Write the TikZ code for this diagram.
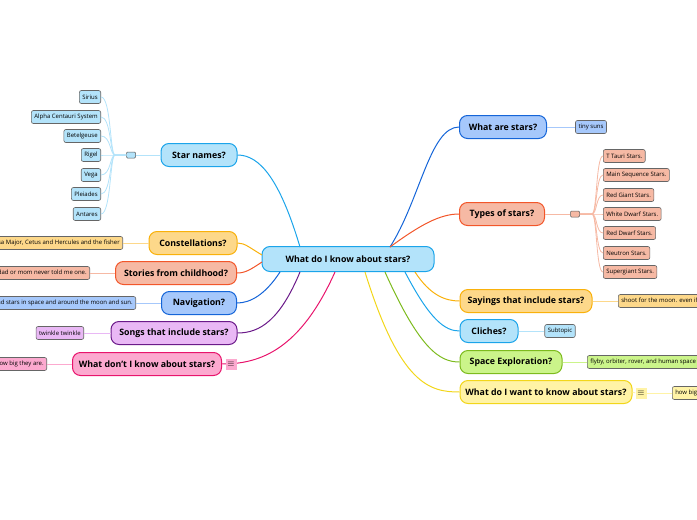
\documentclass[tikz,border=0pt]{standalone}
\usepackage{fontspec}
\setmainfont{Open Sans}
\begin{document}
\begin{tikzpicture}[x=1pt,y=-1pt,
 main/.style={draw,line width=1pt,rounded corners=8pt,minimum height=23pt,inner xsep=4pt,font=\fontsize{8.8}{10}\selectfont\bfseries},
 leaf/.style={draw=gray!80!black,line width=0.6pt,rounded corners=2pt,minimum height=13pt,inner xsep=3pt,font=\fontsize{6}{7}\selectfont},
 hub/.style={draw=gray!70!black,line width=0.5pt,rounded corners=1pt,minimum width=9pt,minimum height=6pt,inner sep=0pt},
 icon/.style={font=\fontsize{9}{9}\selectfont,inner sep=0pt,minimum size=11pt},
 con/.style={line width=1pt},
 lc/.style={line width=0.8pt}]
\definecolor{bF}{HTML}{A6C8FB}\definecolor{bD}{HTML}{1565D8}
\definecolor{oF}{HTML}{F6B9A4}\definecolor{oD}{HTML}{F2562A}
\definecolor{yF}{HTML}{FDD88A}\definecolor{yD}{HTML}{F9B10B}
\definecolor{cF}{HTML}{B3E3FA}\definecolor{cD}{HTML}{1BA4EA}
\definecolor{gF}{HTML}{CBF48A}\definecolor{gD}{HTML}{7DBB1E}
\definecolor{lF}{HTML}{FFF3A6}\definecolor{lD}{HTML}{F2D61A}
\definecolor{pF}{HTML}{E9B8F5}\definecolor{pD}{HTML}{6B1A8A}
\definecolor{kF}{HTML}{FCA9CF}\definecolor{kD}{HTML}{E8146C}
\useasboundingbox (0,0) rectangle (697,520);
\clip (0,0) rectangle (697,520);
% center
\node[main,draw=cD,fill=cF,minimum width=172pt,minimum height=25pt] (c) at (348,259) {What do I know about stars?};
% right mains
\node[main,draw=bD,fill=bF,minimum width=87pt] (m1) at (503,127) {What are stars?};
\node[main,draw=oD,fill=oF,minimum width=85pt] (m2) at (502,214) {Types of stars?};
\node[main,draw=yD,fill=yF,minimum width=132pt] (m3) at (526,301) {Sayings that include stars?};
\node[main,draw=cD,fill=cF,minimum width=58pt] (m4) at (489,331) {Cliches?};
\node[main,draw=gD,fill=gF,minimum width=102pt] (m5) at (511,362) {Space Exploration?};
\node[main,draw=lD,fill=lF,minimum width=172pt] (m6) at (546,392) {What do I want to know about stars?};
% left mains
\node[main,draw=cD,fill=cF,minimum width=76pt] (n1) at (199,155) {Star names?};
\node[main,draw=yD,fill=yF,minimum width=88pt] (n2) at (193,243) {Constellations?};
\node[main,draw=oD,fill=oF,minimum width=121pt] (n3) at (176,273) {Stories from childhood?};
\node[main,draw=bD,fill=bF,minimum width=75pt] (n4) at (199,303) {Navigation?};
\node[main,draw=pD,fill=pF,minimum width=126pt] (n5) at (174,333) {Songs that include stars?};
\node[main,draw=kD,fill=kF,minimum width=149pt] (n6) at (147,364) {What don't I know about stars?};
% center connectors
\draw[con,bD] (390,247) .. controls (420,200) and (430,127) .. (m1.west);
\draw[con,oD] (390,247) .. controls (420,225) and (440,214) .. (m2.west);
\draw[con,yD] (415,272) .. controls (430,295) and (445,301) .. (m3.west);
\draw[con,cD] (405,272) .. controls (430,320) and (445,331) .. (m4.west);
\draw[con,gD] (385,272) .. controls (420,350) and (440,362) .. (m5.west);
\draw[con,lD] (365,272) .. controls (400,385) and (430,392) .. (m6.west);
\draw[con,cD] (300,247) .. controls (280,180) and (260,155) .. (n1.east);
\draw[con,yD] (262,255) .. controls (250,248) and (245,243) .. (n2.east);
\draw[con,oD] (262,262) .. controls (250,270) and (245,273) .. (n3.east);
\draw[con,bD] (280,272) .. controls (265,295) and (250,303) .. (n4.east);
\draw[con,pD] (300,272) .. controls (280,320) and (260,333) .. (n5.east);
\draw[con,kD] (335,272) .. controls (300,350) and (260,364) .. (n6.east);
% right leaves
\node[leaf,fill=bF] (a1) at (591,127) {tiny suns};
\draw[lc,bF] (m1.east) -- (a1.west);
\node[hub,fill=oF] (h2) at (575,214) {};
\draw[lc,oF] (m2.east) -- (h2.west);
\foreach \t/\y [count=\i] in {T Tauri Stars./156,Main Sequence Stars./175,Red Giant Stars./195,White Dwarf Stars./214,Red Dwarf Stars./233,Neutron Stars./253,Supergiant Stars./272}{
 \node[leaf,fill=oF,anchor=west] (t\i) at (603,\y) {\t};
 \draw[lc,oF] (h2.east) -- (592,214) .. controls (597,214) and (596,\y) .. (t\i.west);
}
\node[leaf,fill=yF,anchor=west] (a3) at (618,301) {shoot for the moon. even if you miss you will land among the stars};
\draw[lc,yF] (m3.east) -- (a3.west);
\node[leaf,fill=cF] (a4) at (560,331) {Subtopic};
\draw[lc,cF] (m4.east) -- (a4.west);
\node[leaf,fill=gF,anchor=west] (a5) at (587,362) {flyby, orbiter, rover, and human space exploration};
\draw[lc,gF] (m5.east) -- (a5.west);
\node[icon,fill=lF] (i6) at (641,393) {$\equiv$};
\node[leaf,fill=lF,anchor=west] (a6) at (672,393) {how big stars are};
\draw[lc,lF] (i6.east) -- (a6.west);
\draw[lc,lF] (m6.east) -- (i6.west);
% left leaves
\node[hub,fill=cF] (h1) at (131,155) {};
\draw[lc,cF] (n1.west) -- (h1.east);
\foreach \t/\y [count=\i] in {Sirius/97,Alpha Centauri System/117,Betelgeuse/136,Rigel/155,Vega/175,Pleiades/194,Antares/214}{
 \node[leaf,fill=cF,anchor=east] (s\i) at (101,\y) {\t};
 \draw[lc,cF] (h1.west) -- (115,155) .. controls (110,155) and (111,\y) .. (s\i.east);
}
\node[leaf,fill=yF,anchor=east] (b2) at (123,243) {Ursa Major, Cetus and Hercules and the fisher};
\draw[lc,yF] (n2.west) -- (b2.east);
\node[leaf,fill=oF,anchor=east] (b3) at (90,273) {My dad or mom never told me one.};
\draw[lc,oF] (n3.west) -- (b3.east);
\node[leaf,fill=bF,anchor=east] (b4) at (136,303) {Find stars in space and around the moon and sun.};
\draw[lc,bF] (n4.west) -- (b4.east);
\node[leaf,fill=pF,anchor=east] (b5) at (84,333) {twinkle twinkle};
\draw[lc,pF] (n5.west) -- (b5.east);
\node[icon,fill=kF] (i7) at (231,364) {$\equiv$};
\draw[lc,kF] (n6.east) -- (i7.west);
\node[leaf,fill=kF,anchor=east] (b6) at (47,364) {how big they are.};
\draw[lc,kF] (n6.west) -- (b6.east);
\end{tikzpicture}
\end{document}
